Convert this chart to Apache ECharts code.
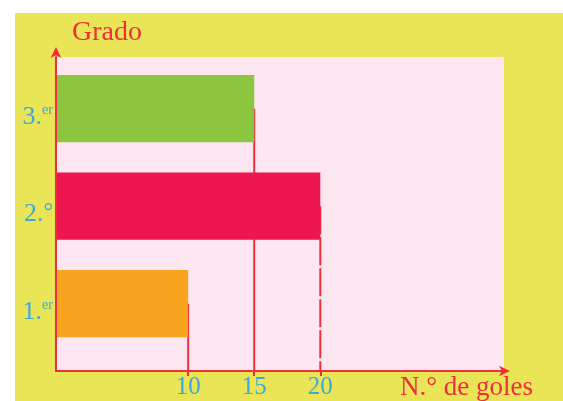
<!DOCTYPE html>
<html>
<head>
<meta charset="utf-8">
<script src="https://cdn.jsdelivr.net/npm/echarts@6/dist/echarts.min.js"></script>
<style>
	html, body { margin: 0; padding: 0; background: #ffffff; overflow: hidden; }
	#chart { position: absolute; left: 15px; top: 13px; width: 548px; height: 388px; }
</style>
</head>
<body>
<div id="chart"></div>
<script>
// datos
var grados = ['1.er', '2.°', '3.er'];
var gradoPos = [1, 2, 3];
var goles = [10, 20, 15];
var golesTicks = [10, 15, 20];

// estilos
var barColors = ['#f9a41f', '#ee1651', '#8cc540'];
var dropTypes = ['solid', [28, 3], 'solid'];
var RED = '#ee2f3c';
var BLUE = '#3ba9dd';
var SERIF = '"Liberation Serif", "DejaVu Serif", serif';
var Y_MIN = 0.31, Y_MAX = 3.53, BAR_H = 0.69;

var chart = echarts.init(document.getElementById('chart'));

var barData = [];
for (var i = 0; i < goles.length; i++) {
	barData.push([goles[i], gradoPos[i]]);
}

var series = [{
	type: 'custom',
	z: 2,
	data: barData,
	encode: { x: 0, y: 1 },
	renderItem: function(params, api) {
		var end = api.coord([api.value(0), api.value(1)]);
		var start = api.coord([0, api.value(1)]);
		var h = api.size([0, BAR_H])[1];
		return {
			type: 'rect',
			shape: { x: start[0], y: end[1] - h / 2, width: end[0] - start[0], height: h },
			style: { fill: barColors[params.dataIndex] }
		};
	}
}];

// lineas verticales desde cada barra hasta el eje
for (var j = 0; j < goles.length; j++) {
	series.push({
		type: 'line',
		z: 1,
		symbol: 'none',
		silent: true,
		data: [[goles[j], gradoPos[j]], [goles[j], Y_MIN]],
		lineStyle: { color: RED, width: 2, type: dropTypes[j] }
	});
}

chart.setOption({
	backgroundColor: '#e9e556',
	animation: false,
	grid: {
		left: 41, top: 44, right: 59, bottom: 25,
		show: true, backgroundColor: '#fce6ef', borderWidth: 0
	},
	xAxis: {
		type: 'value',
		min: 0, max: 33.9,
		z: 5,
		name: 'N.° de goles',
		nameLocation: 'end',
		nameGap: 29,
		nameTextStyle: {
			color: RED, fontFamily: SERIF, fontSize: 27,
			align: 'right', verticalAlign: 'top', padding: [3, 0, 0, 0]
		},
		axisLine: {
			show: true,
			lineStyle: { color: RED, width: 2 },
			symbol: ['none', 'arrow'],
			symbolSize: [8, 11],
			symbolOffset: [0, 6]
		},
		axisTick: { show: true, customValues: golesTicks, length: 5, lineStyle: { color: RED, width: 2 } },
		axisLabel: { customValues: golesTicks, color: BLUE, fontFamily: SERIF, fontSize: 25, margin: 4 },
		splitLine: { show: false }
	},
	yAxis: {
		type: 'value',
		min: Y_MIN, max: Y_MAX,
		z: 5,
		name: 'Grado',
		nameLocation: 'end',
		nameGap: 24,
		nameTextStyle: {
			color: RED, fontFamily: SERIF, fontSize: 28,
			align: 'left', verticalAlign: 'middle', padding: [0, 0, 0, 16]
		},
		axisLine: {
			show: true,
			lineStyle: { color: RED, width: 2 },
			symbol: ['none', 'arrow'],
			symbolSize: [8, 11],
			symbolOffset: [0, 10]
		},
		axisTick: { show: false },
		axisLabel: {
			customValues: gradoPos,
			margin: 3,
			padding: [16, 0, 0, 0],
			formatter: function(v) {
				var g = grados[Math.round(v) - 1];
				var n = g.slice(0, 2), s = g.slice(2);
				return '{n|' + n + '}{' + (s === '°' ? 'd' : 's') + '|' + s + '}';
			},
			rich: {
				n: { color: BLUE, fontFamily: SERIF, fontSize: 26, lineHeight: 26 },
				s: { color: BLUE, fontFamily: SERIF, fontSize: 14, lineHeight: 14, verticalAlign: 'top' },
				d: { color: BLUE, fontFamily: SERIF, fontSize: 24, lineHeight: 24, verticalAlign: 'top' }
			}
		},
		splitLine: { show: false }
	},
	series: series
});
</script>
</body>
</html>
